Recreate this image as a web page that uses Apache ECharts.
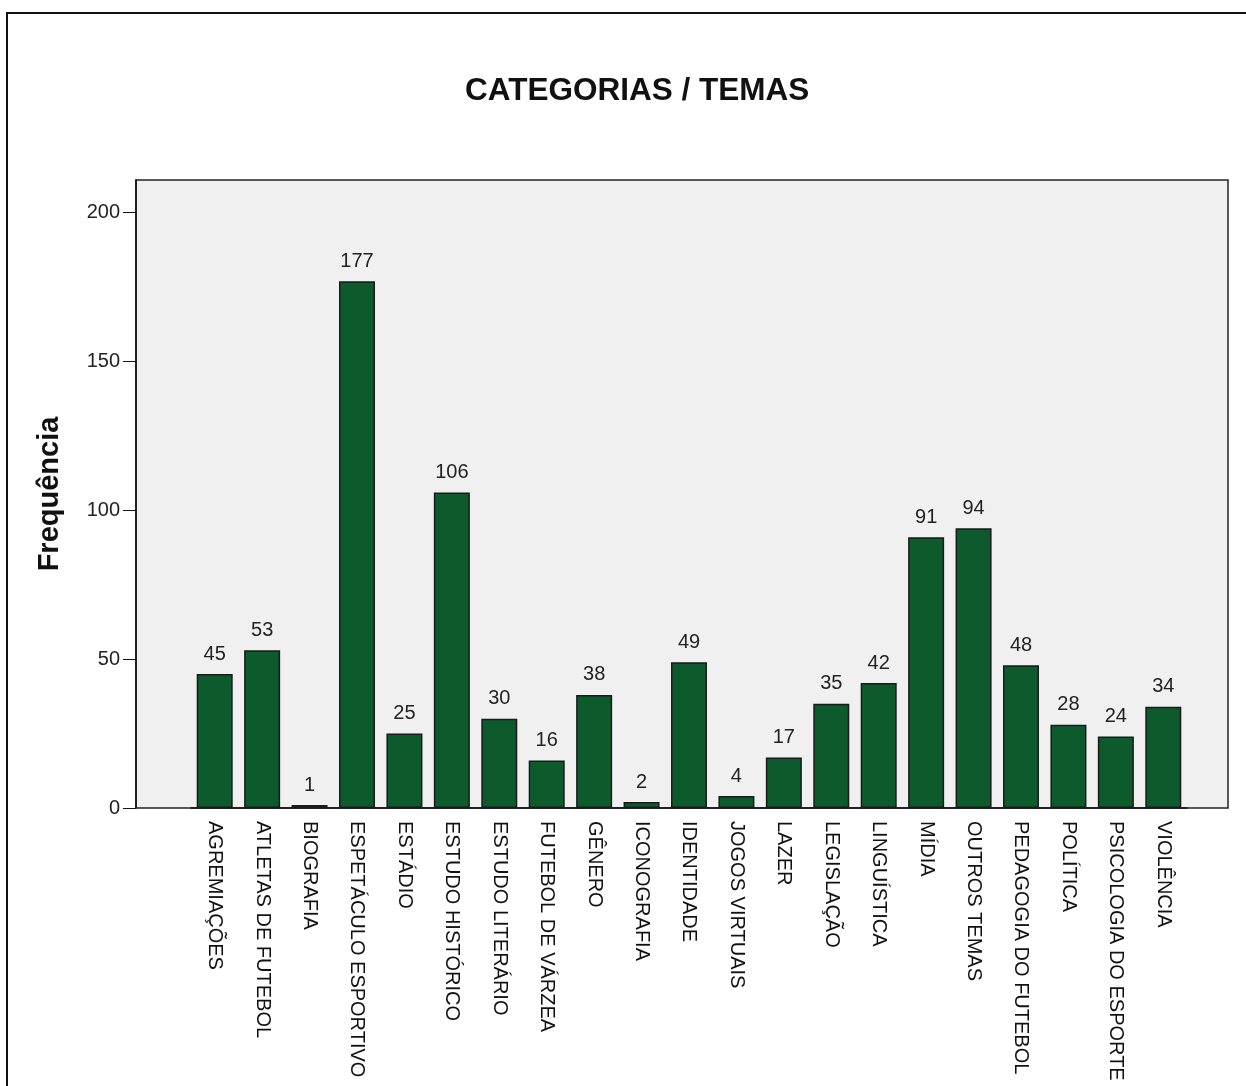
<!DOCTYPE html>
<html>
<head>
<meta charset="utf-8">
<script src="https://cdn.jsdelivr.net/npm/echarts@6/dist/echarts.min.js"></script>
<style>
  html, body { margin: 0; padding: 0; background: #fff; }
  #chart { width: 1246px; height: 1086px; }
</style>
</head>
<body>
<div id="chart"></div>
<script>
// categorias (eixo x)
const categorias = [
  'AGREMIAÇÕES', 'ATLETAS DE FUTEBOL', 'BIOGRAFIA', 'ESPETÁCULO ESPORTIVO',
  'ESTÁDIO', 'ESTUDO HISTÓRICO', 'ESTUDO LITERÁRIO', 'FUTEBOL DE VÁRZEA',
  'GÊNERO', 'ICONOGRAFIA', 'IDENTIDADE', 'JOGOS VIRTUAIS', 'LAZER',
  'LEGISLAÇÃO', 'LINGUÍSTICA', 'MÍDIA', 'OUTROS TEMAS',
  'PEDAGOGIA DO FUTEBOL', 'POLÍTICA', 'PSICOLOGIA DO ESPORTE', 'VIOLÊNCIA'
]
// frequência de cada categoria
const frequencia = [45, 53, 1, 177, 25, 106, 30, 16, 38, 2, 49, 4, 17, 35, 42, 91, 94, 48, 28, 24, 34]
// marcas do eixo y
const yTicks = [0, 50, 100, 150, 200]
const yMax = 211

const font = '"Liberation Sans", Arial, sans-serif'
const chart = echarts.init(document.getElementById('chart'))

const option = {
  backgroundColor: '#fff',
  animation: false,
  title: {
    text: 'CATEGORIAS / TEMAS',
    left: 460,
    top: 70,
    textStyle: { fontFamily: font, fontSize: 31.5, fontWeight: 'bold', color: '#111' }
  },
  graphic: [{
    type: 'rect',
    shape: { x: 7, y: 13, width: 1300, height: 1200 },
    style: { fill: 'none', stroke: '#111', lineWidth: 2 },
    silent: true
  }],
  grid: [
    // area cinza com a moldura
    { left: 136, top: 180, width: 1092, height: 628, show: true,
      backgroundColor: '#f0f0f0', borderColor: '#222', borderWidth: 1.5 },
    // area das barras
    { left: 191, top: 180, width: 996, height: 628 }
  ],
  xAxis: [
    { type: 'value', gridIndex: 0, show: false, min: 0, max: 1 },
    {
      type: 'category', gridIndex: 1, data: categorias,
      axisLine: { lineStyle: { color: '#111', width: 1.5 } },
      axisTick: { alignWithLabel: true, length: 12, lineStyle: { color: '#111' } },
      axisLabel: { rotate: -90, interval: 0, margin: 13, fontFamily: font, fontSize: 20, color: '#111' }
    }
  ],
  yAxis: [
    {
      type: 'value', gridIndex: 0, min: 0, max: yMax,
      name: 'Frequência', nameLocation: 'middle', nameGap: 72,
      nameTextStyle: { fontFamily: font, fontSize: 29, fontWeight: 'bold', color: '#111' },
      axisLine: { show: true, lineStyle: { color: '#111', width: 1.5 } },
      axisTick: { show: true, length: 13, customValues: yTicks, lineStyle: { color: '#111' } },
      axisLabel: { customValues: yTicks, margin: 16, fontFamily: font, fontSize: 20, color: '#222' },
      splitLine: { show: false }
    },
    { type: 'value', gridIndex: 1, min: 0, max: yMax, show: false, splitLine: { show: false } }
  ],
  series: [{
    type: 'bar',
    xAxisIndex: 1,
    yAxisIndex: 1,
    data: frequencia,
    barWidth: 36,
    itemStyle: { color: '#0d5a2d', borderColor: '#1a1a1a', borderWidth: 1.5 },
    label: {
      show: true, position: 'top', distance: 10,
      fontFamily: font, fontSize: 20, color: '#222'
    }
  }]
}

chart.setOption(option)
</script>
</body>
</html>
